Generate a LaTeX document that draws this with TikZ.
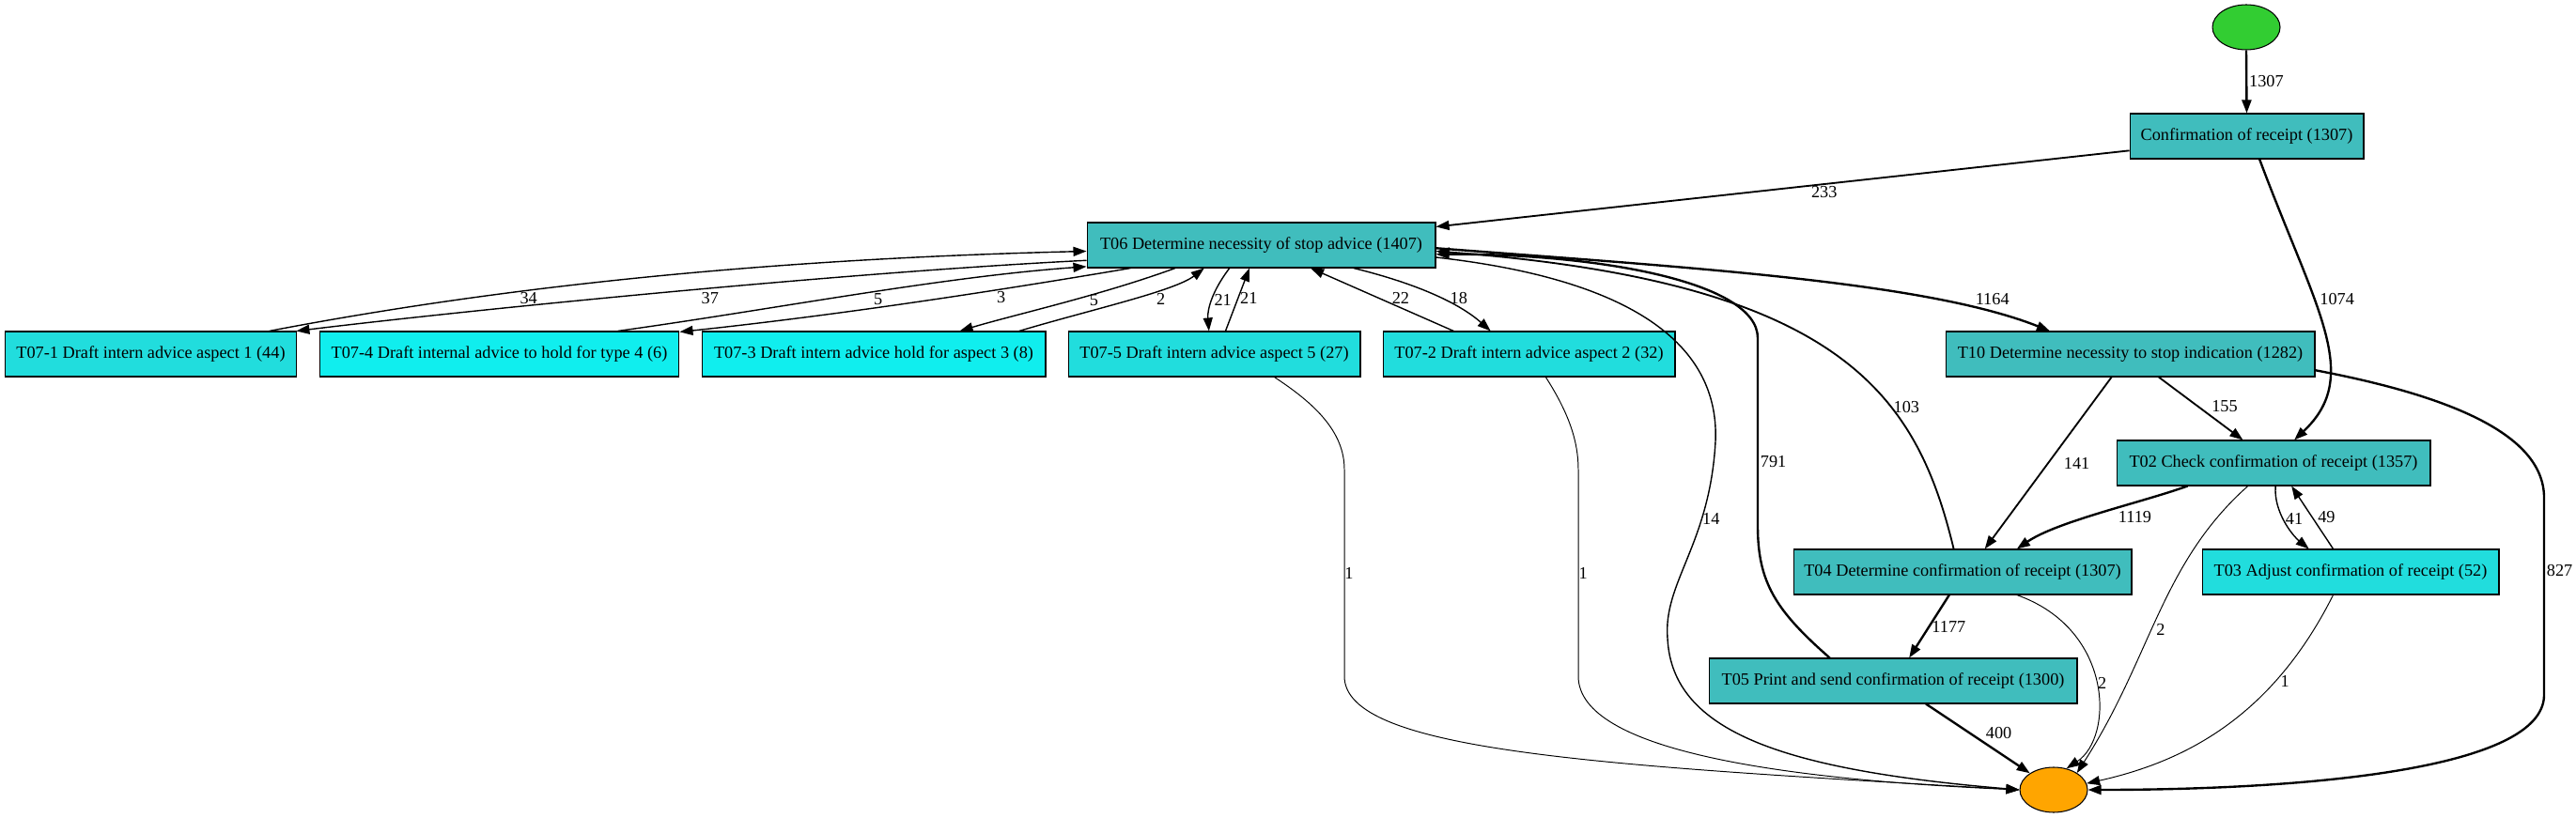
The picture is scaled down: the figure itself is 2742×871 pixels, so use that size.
\documentclass[tikz,border=0pt]{standalone}
\usepackage{fontspec}
\setmainfont{Liberation Serif}
\usetikzlibrary{arrows.meta,shapes.geometric}

\definecolor{actdark}{RGB}{64,189,189}
\definecolor{actmid}{RGB}{33,221,221}
\definecolor{actlight}{RGB}{16,238,238}
\definecolor{startgreen}{RGB}{50,205,50}
\definecolor{endorange}{RGB}{255,165,0}

\begin{document}
\begin{tikzpicture}[x=0.02cm, y=-0.02cm,
	font=\fontsize{10.4}{12}\selectfont,
	act/.style={draw, rectangle, line width=0.6pt, inner sep=0pt, minimum height=0.96cm},
	ev/.style={draw, ellipse, line width=0.6pt, inner sep=0pt, minimum width=1.44cm, minimum height=0.96cm},
	flow/.style={-{Triangle[length=8pt,width=5.7pt]}},
	w1/.style={flow, line width=0.55pt},
	w2/.style={flow, line width=0.8pt},
	w3/.style={flow, line width=1.05pt},
	w4/.style={flow, line width=1.35pt},
	lbl/.style={inner sep=1pt}]
  \useasboundingbox (0,0) rectangle (2742,871);

  \node[ev, fill=startgreen] (source) at (2391,29) {};
  \node[act, fill=actdark, minimum width=4.98cm] (conf) at (2391.5,145) {Confirmation of receipt (1307)};
  \node[act, fill=actdark, minimum width=7.42cm] (t06) at (1342.5,261) {T06 Determine necessity of stop advice (1407)};
  \node[act, fill=actdark, minimum width=7.86cm] (t10) at (2267.5,377) {T10 Determine necessity to stop indication (1282)};
  \node[act, fill=actdark, minimum width=6.68cm] (t02) at (2420,493) {T02 Check confirmation of receipt (1357)};
  \node[act, fill=actdark, minimum width=7.2cm] (t04) at (2089,609) {T04 Determine confirmation of receipt (1307)};
  \node[act, fill=actmid, minimum width=6.32cm] (t03) at (2502,609) {T03 Adjust confirmation of receipt (52)};
  \node[act, fill=actdark, minimum width=7.84cm] (t05) at (2015,725) {T05 Print and send confirmation of receipt (1300)};
  \node[act, fill=actmid, minimum width=6.22cm] (t071) at (160.5,377) {T07-1 Draft intern advice aspect 1 (44)};
  \node[act, fill=actlight, minimum width=7.66cm] (t074) at (531.5,377) {T07-4 Draft internal advice to hold for type 4 (6)};
  \node[act, fill=actlight, minimum width=7.32cm] (t073) at (930,377) {T07-3 Draft intern advice hold for aspect 3 (8)};
  \node[act, fill=actmid, minimum width=6.22cm] (t075) at (1292.5,377) {T07-5 Draft intern advice aspect 5 (27)};
  \node[act, fill=actmid, minimum width=6.22cm] (t072) at (1627.5,377) {T07-2 Draft intern advice aspect 2 (32)};
  \node[ev, fill=endorange] (sink) at (2186,841) {};

  \draw[w4] (source.south) -- node[lbl, right] {1307} (conf.north);
  \draw[w3] (conf.-173) -- node[lbl, pos=.44, below] {233} (t06.6);
  \draw[w4] (conf.-61) .. controls (2465,330) and (2515,400) .. node[lbl, pos=.38, right=2pt] {1074} (t02.48);
  \draw[w4] (t06.-1) .. controls (1800,285) and (2050,300) .. node[lbl, pos=.82, above right] {1164} (t10.164);
  \draw[w3] (t10.-39) -- node[lbl, pos=.6, above right] {155} (t02.143);
  \draw[w3] (t10.-129) -- node[lbl, right=8pt] {141} (t04.46);
  \draw[w4] (t10.-5) .. controls (2600,420) and (2708,460) .. (2708,530) -- node[lbl, pos=.37, right] {827} (2708,740) .. controls (2708,820) and (2450,841) .. (sink.east);
  \draw[w4] (t02.-165) .. controls (2280,535) and (2190,555) .. node[lbl, pos=.42, below right] {1119} (t04.23);
  \draw[w2] (t02.-85) .. controls (2420,545) and (2440,570) .. node[lbl, pos=.45, right] {41} (t03.151);
  \draw[w2] (t03.127) -- node[lbl, right=2pt] {49} (t02.-52);
  \draw[w1] (t02.-138) .. controls (2300,600) and (2290,700) .. node[lbl, pos=.55, right=2pt] {2} (sink.36);
  \draw[w1] (t03.-127) .. controls (2420,760) and (2330,810) .. node[lbl, pos=.29, right=2pt] {1} (sink.11);
  \draw[w4] (t04.-120) -- node[lbl, right] {1177} (t05.55);
  \draw[w1] (t04.-23) .. controls (2250,670) and (2250,785) .. node[lbl, pos=.5, right] {2} (sink.59);
  \draw[w4] (t05.-35) -- node[lbl, pos=.55, above right] {400} (sink.145);
  \draw[w4] (t05.160) .. controls (1890,650) and (1871,620) .. (1871,560) -- node[lbl, pos=.34, right] {791} (1871,360) .. controls (1871,300) and (1700,270) .. (t06.-3);
  \draw[w2] (t06.-4) .. controls (1760,300) and (1830,380) .. (1826,470) .. controls (1820,580) and (1770,620) .. node[lbl, pos=.3, right, inner sep=0pt] {14} (1775,680) .. controls (1780,780) and (1900,820) .. (sink.west);
  \draw[w3] (t04.111) .. controls (2040,420) and (1960,300) .. node[lbl, pos=.34, right] {103} (t06.-2);
  \draw[w1] (t075.-21) .. controls (1400,430) and (1431,460) .. (1431,500) -- node[lbl, right, inner sep=0pt] {1} (1431,720) .. controls (1431,800) and (1700,815) .. (sink.west);
  \draw[w1] (t072.-54) .. controls (1670,440) and (1680,470) .. (1680,500) -- node[lbl, right, inner sep=0pt] {1} (1680,720) .. controls (1680,800) and (1900,830) .. (sink.west);

  \draw[w2] (t071.11) .. controls (560,300) and (850,275) .. node[lbl, pos=.33, below] {34} (t06.-178);
  \draw[w2] (t06.-175) .. controls (900,290) and (500,330) .. node[lbl, pos=.45, below=1pt] {37} (t071.9);
  \draw[w2] (t074.11) .. controls (820,330) and (1000,295) .. node[lbl, pos=.55, below] {5} (t06.-173);
  \draw[w2] (t06.-170) .. controls (1000,320) and (850,340) .. node[lbl, pos=.24, below] {3} (t074.7);
  \draw[w2] (t06.-165) .. controls (1170,315) and (1080,335) .. node[lbl, pos=.35, below, inner sep=0pt] {5} (t073.15);
  \draw[w2] (t073.9) .. controls (1160,330) and (1250,310) .. node[lbl, pos=.68, below=1pt] {2} (t06.-158);
  \draw[w2] (t06.-144) .. controls (1290,310) and (1285,330) .. node[lbl, pos=.5, right] {21} (t075.103);
  \draw[w2] (t075.64) -- node[lbl, pos=.52, right] {21} (t06.-117);
  \draw[w2] (t072.163) -- node[lbl, pos=.37, above=1pt] {22} (t06.-25);
  \draw[w2] (t06.-14) .. controls (1500,300) and (1550,320) .. node[lbl, pos=.72, above=1pt] {18} (t072.149);
\end{tikzpicture}
\end{document}
